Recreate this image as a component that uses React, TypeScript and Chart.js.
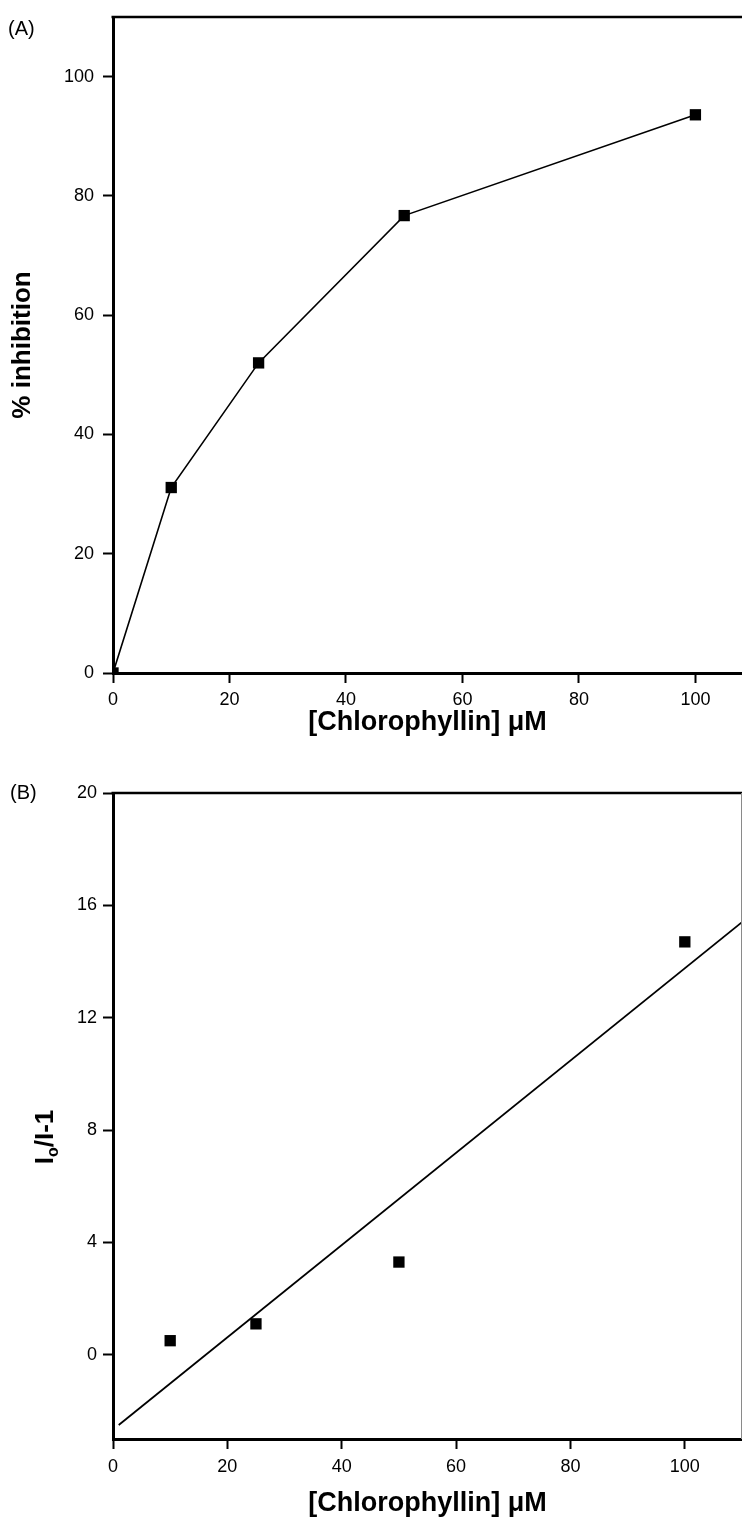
import React, { useEffect, useRef } from 'react';
import { Chart, registerables } from 'chart.js';

Chart.register(...registerables);

// ---------- data ----------
const concA = [0, 10, 25, 50, 100];
const inhibitionA = [0, 31.1, 52.0, 76.7, 93.6];

const concB = [10, 25, 50, 100];
const ratioB = [0.5, 1.1, 3.3, 14.7];
const fitX = [1, 110];
const fitY = [-2.5, 15.4];

const xTicks = [0, 20, 40, 60, 80, 100];
const yTicksA = [0, 20, 40, 60, 80, 100];
const yTicksB = [0, 4, 8, 12, 16, 20];

const xTitle = '[Chlorophyllin] \u03BCM';
const yTitleA = '% inhibition';
const panelA = '(A)';
const panelB = '(B)';

const FAMILY = '"Liberation Sans", Arial, Helvetica, sans-serif';

type PanelOpts = {
  panel: string;
  panelX: number;
  panelY: number;
  top: number;
  xHeight: number;
  xMax: number;
  yMin: number;
  yMax: number;
  yTicks: number[];
  xTickPad: number;
  yTickPad: number;
  xTitlePad: number;
  yTitle?: string;
  yTitlePad?: number;
  customYTitle?: boolean;
  yTitleCX?: number;
  yTitleCY?: number;
  rightBorder?: boolean;
  datasets: any[];
};

function makeChart(canvas: HTMLCanvasElement, p: PanelOpts) {
  const frame = {
    id: 'frame',
    afterDraw(chart: any) {
      const { ctx, chartArea: ca } = chart;
      ctx.save();
      ctx.strokeStyle = '#000';
      ctx.lineWidth = 2.5;
      ctx.beginPath();
      ctx.moveTo(ca.left - 1.5, ca.top);
      ctx.lineTo(chart.width, ca.top);
      ctx.stroke();
      if (p.rightBorder) {
        ctx.strokeStyle = '#8a8a8a';
        ctx.lineWidth = 1;
        ctx.beginPath();
        ctx.moveTo(chart.width - 0.5, ca.top);
        ctx.lineTo(chart.width - 0.5, ca.bottom);
        ctx.stroke();
      }
      ctx.fillStyle = '#000';
      ctx.font = `20px ${FAMILY}`;
      ctx.textAlign = 'left';
      ctx.textBaseline = 'middle';
      ctx.fillText(p.panel, p.panelX, p.panelY);

      if (p.customYTitle) {
        // I_o/I-1 with subscript o
        ctx.translate(p.yTitleCX!, p.yTitleCY!);
        ctx.rotate(-Math.PI / 2);
        ctx.textBaseline = 'alphabetic';
        const big = `bold 26px ${FAMILY}`;
        const small = `bold 16px ${FAMILY}`;
        const parts: [string, string, number][] = [
          ['I', big, 9],
          ['o', small, 14],
          ['/I-1', big, 9],
        ];
        let total = 0;
        for (const [t, f] of parts) {
          ctx.font = f;
          total += ctx.measureText(t).width;
        }
        let x = -total / 2;
        for (const [t, f, dy] of parts) {
          ctx.font = f;
          ctx.fillText(t, x, dy);
          x += ctx.measureText(t).width;
        }
      }
      ctx.restore();
    },
  };

  return new Chart(canvas, {
    type: 'scatter',
    data: { datasets: p.datasets },
    options: {
      animation: false,
      responsive: false,
      devicePixelRatio: 1,
      layout: { autoPadding: false, padding: { top: p.top, left: 0, right: 0, bottom: 0 } },
      plugins: { legend: { display: false }, tooltip: { enabled: false } },
      scales: {
        x: {
          type: 'linear',
          min: 0,
          max: p.xMax,
          afterBuildTicks: (s: any) => {
            s.ticks = xTicks.map((v) => ({ value: v }));
          },
          afterFit: (s: any) => {
            s.height = p.xHeight;
            s.paddingLeft = 0;
            s.paddingRight = 0;
          },
          grid: {
            drawOnChartArea: false,
            drawTicks: true,
            tickLength: 10,
            tickWidth: 2,
            tickColor: '#000',
          },
          border: { display: true, color: '#000', width: 3 },
          ticks: {
            color: '#000',
            font: { family: FAMILY, size: 18 },
            padding: p.xTickPad,
            maxRotation: 0,
            autoSkip: false,
          },
          title: {
            display: true,
            text: xTitle,
            color: '#000',
            font: { family: FAMILY, size: 27, weight: 'bold' },
            padding: { top: 0, bottom: p.xTitlePad },
          },
        },
        y: {
          type: 'linear',
          min: p.yMin,
          max: p.yMax,
          afterBuildTicks: (s: any) => {
            s.ticks = p.yTicks.map((v) => ({ value: v }));
          },
          afterFit: (s: any) => {
            s.width = 113;
            s.paddingTop = 0;
            s.paddingBottom = 0;
          },
          grid: {
            drawOnChartArea: false,
            drawTicks: true,
            tickLength: 10,
            tickWidth: 2,
            tickColor: '#000',
          },
          border: { display: true, color: '#000', width: 3 },
          ticks: {
            color: '#000',
            font: { family: FAMILY, size: 18 },
            padding: p.yTickPad,
            autoSkip: false,
          },
          title: {
            display: !!p.yTitle,
            text: p.yTitle || '',
            color: '#000',
            font: { family: FAMILY, size: 26, weight: 'bold' },
            padding: { top: p.yTitlePad ?? 0, bottom: 0 },
          },
        },
      },
    } as any,
    plugins: [frame],
  });
}

const pointStyle = {
  pointStyle: 'rect',
  pointRadius: 8,
  pointHoverRadius: 8,
  pointBackgroundColor: '#000',
  pointBorderWidth: 0,
};

export default function App() {
  const refA = useRef<HTMLCanvasElement>(null);
  const refB = useRef<HTMLCanvasElement>(null);

  useEffect(() => {
    const a = makeChart(refA.current!, {
      panel: panelA,
      panelX: 8,
      panelY: 29,
      top: 17,
      xHeight: 87,
      xMax: 108,
      yMin: 0,
      yMax: 110,
      yTicks: yTicksA,
      xTickPad: 6,
      yTickPad: 9,
      xTitlePad: 21,
      yTitle: yTitleA,
      yTitlePad: 7,
      datasets: [
        {
          data: concA.map((x, i) => ({ x, y: inhibitionA[i] })),
          showLine: true,
          borderColor: '#000',
          borderWidth: 1.6,
          ...pointStyle,
        },
      ],
    });
    const b = makeChart(refB.current!, {
      panel: panelB,
      panelX: 10,
      panelY: 33,
      top: 33,
      xHeight: 81,
      xMax: 110,
      yMin: -3,
      yMax: 20,
      yTicks: yTicksB,
      xTickPad: 7,
      yTickPad: 6,
      xTitlePad: 0,
      customYTitle: true,
      yTitleCX: 44,
      yTitleCY: 377,
      rightBorder: true,
      datasets: [
        {
          data: concB.map((x, i) => ({ x, y: ratioB[i] })),
          showLine: false,
          ...pointStyle,
        },
        {
          data: fitX.map((x, i) => ({ x, y: fitY[i] })),
          showLine: true,
          borderColor: '#000',
          borderWidth: 1.8,
          pointRadius: 0,
          pointHoverRadius: 0,
        },
      ],
    });
    return () => {
      a.destroy();
      b.destroy();
    };
  }, []);

  return (
    <div style={{ position: 'absolute', left: 0, top: 0, width: 742, height: 1520, background: '#fff' }}>
      <canvas ref={refA} width={742} height={760} style={{ display: 'block', position: 'absolute', left: 0, top: 0 }} />
      <canvas ref={refB} width={742} height={760} style={{ display: 'block', position: 'absolute', left: 0, top: 760 }} />
    </div>
  );
}
